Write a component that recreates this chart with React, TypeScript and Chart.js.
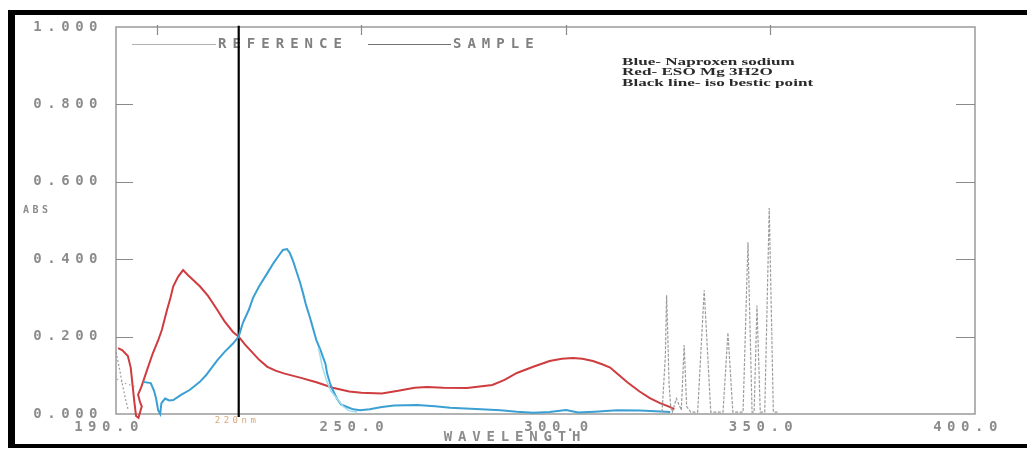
import React, { useEffect, useRef } from "react";
import { Chart, registerables } from "chart.js";

Chart.register(...registerables);

// ---------- data ----------
const redNm = [190.5, 191.5, 192.9, 193.6, 194.0, 194.5, 194.9, 195.5, 196.3, 195.9, 195.4, 196.2, 197.6, 199.0, 200.3, 201.2, 202.5, 203.3, 204.0, 205.2, 206.4, 207.5, 209.0, 210.5, 212.5, 214.7, 216.5, 218.6, 220.0, 221.5, 222.8, 225, 227, 229, 231, 235, 239, 243, 247, 250, 255, 259, 263, 266, 270, 275.8, 282, 285, 288, 292, 296, 299, 301.7, 304, 306.6, 309, 310.8, 313, 315, 318, 320.5, 323, 325.5, 326.5];
const redAbs = [0.17, 0.165, 0.15, 0.12, 0.08, 0.03, -0.005, -0.01, 0.02, 0.03, 0.05, 0.07, 0.114, 0.157, 0.19, 0.217, 0.27, 0.3, 0.33, 0.355, 0.372, 0.36, 0.345, 0.33, 0.305, 0.27, 0.24, 0.212, 0.2, 0.18, 0.165, 0.14, 0.122, 0.112, 0.105, 0.094, 0.082, 0.068, 0.058, 0.055, 0.053, 0.06, 0.068, 0.07, 0.068, 0.067, 0.075, 0.088, 0.106, 0.122, 0.137, 0.143, 0.145, 0.143, 0.137, 0.128, 0.12, 0.1, 0.082, 0.058, 0.041, 0.028, 0.018, 0.012];

const blueNm = [196.6, 198.5, 199.3, 199.8, 200.3, 200.8, 201.1, 202, 203, 204, 206, 208, 210.5, 212, 214.7, 216.5, 218.6, 220, 221, 222.5, 223.5, 225, 227, 228.5, 229.5, 230.8, 231.8, 232.5, 233.3, 234, 235, 235.7, 236.5, 237.4, 238.2, 239, 240, 240.6, 241.2, 241.6, 242.3, 243, 244, 245, 246.5, 248, 249.7, 252, 255, 258, 263.6, 268, 271.7, 278, 284, 288, 292, 296, 300, 303, 307, 312.5, 318, 322, 325.5];
const blueAbs = [0.083, 0.08, 0.06, 0.04, 0.01, 0.0, 0.028, 0.04, 0.035, 0.036, 0.05, 0.062, 0.083, 0.1, 0.138, 0.16, 0.182, 0.2, 0.235, 0.27, 0.3, 0.33, 0.364, 0.39, 0.405, 0.424, 0.426, 0.416, 0.395, 0.372, 0.34, 0.313, 0.28, 0.25, 0.22, 0.19, 0.165, 0.147, 0.13, 0.105, 0.08, 0.062, 0.04, 0.025, 0.018, 0.012, 0.01, 0.012, 0.018, 0.022, 0.023, 0.02, 0.016, 0.013, 0.01, 0.006, 0.003, 0.005, 0.01, 0.004, 0.006, 0.01, 0.009, 0.007, 0.005];

const cyanNm = [239.5, 240.5, 241.5, 242.5, 244, 245.5, 247, 249];
const cyanAbs = [0.17, 0.12, 0.085, 0.06, 0.04, 0.02, 0.008, 0.005];

const refSpikeNm = [323.5, 324.3, 324.6, 324.9, 325.2, 325.6, 326.0, 327.0, 328.2, 328.9, 329.5, 330.5, 332.2, 333.8, 335.4, 338.4, 339.6, 340.8, 343.3, 344.5, 345.5, 346.0, 346.7, 347.5, 348.6, 349.7, 350.7, 352.0];
const refSpikeAbs = [0.005, 0.15, 0.307, 0.2, 0.08, 0.02, 0.005, 0.04, 0.01, 0.178, 0.02, 0.005, 0.005, 0.32, 0.005, 0.005, 0.21, 0.005, 0.005, 0.444, 0.005, 0.005, 0.28, 0.005, 0.005, 0.532, 0.005, 0.005];

const refLeftNm = [190.0, 190.8, 191.5, 192.3, 193.0];
const refLeftAbs = [0.16, 0.12, 0.08, 0.04, 0.01];
const refLeft2Nm = [190.2, 191.2, 192.0, 193.5, 195.0];
const refLeft2Abs = [0.09, 0.085, 0.08, 0.075, 0.07];

const isoNm = 220;
const isoAbs = [-0.008, 1.003];

const xTickValues = [190, 200, 250, 300, 350, 400];
const xLabelledTicks = [190, 250, 300, 350, 400];
const yTickValues = [0, 0.2, 0.4, 0.6, 0.8, 1.0];
const legendLabels = ["REFERENCE", "SAMPLE"];
const noteLines = ["Blue- Naproxen sodium", "Red- ESO Mg 3H2O", "Black line- iso bestic point"];
const isoLabel = "220nm";
const xTitle = "WAVELENGTH";
const yTitle = "ABS";

const pts = (xs: number[], ys: number[]) => xs.map((x, i) => ({ x, y: ys[i] }));

const MONO = '"DejaVu Sans Mono", monospace';
const LABEL_GRAY = "#8c8c8c";

function spacedText(ctx: CanvasRenderingContext2D, text: string, x: number, y: number, font: string, color: string, spacing: number, align: CanvasTextAlign = "left") {
  ctx.save();
  (ctx as any).letterSpacing = spacing + "px";
  ctx.font = font;
  ctx.fillStyle = color;
  ctx.textAlign = align;
  ctx.textBaseline = "middle";
  ctx.fillText(text, x, y);
  ctx.restore();
}

function stretchedText(ctx: CanvasRenderingContext2D, text: string, x: number, y: number, font: string, color: string, sx: number) {
  ctx.save();
  ctx.translate(x, y);
  ctx.scale(sx, 1);
  ctx.font = font;
  ctx.fillStyle = color;
  ctx.textAlign = "left";
  ctx.textBaseline = "middle";
  ctx.fillText(text, 0, 0);
  ctx.restore();
}

const decor = {
  id: "decor",
  beforeDraw(chart: any) {
    const ctx = chart.ctx as CanvasRenderingContext2D;
    ctx.save();
    ctx.fillStyle = "#ffffff";
    ctx.fillRect(0, 0, chart.width, chart.height);
    ctx.restore();
    (ctx as any).letterSpacing = "5.5px";
  },
  beforeDatasetsDraw(chart: any) {
    (chart.ctx as any).letterSpacing = "0px";
    const ctx = chart.ctx as CanvasRenderingContext2D;
    const { left, right, top, bottom } = chart.chartArea;
    const xs = chart.scales.x;
    const ys = chart.scales.y;
    ctx.save();
    ctx.strokeStyle = "#9a9a9a";
    ctx.lineWidth = 1.5;
    ctx.strokeRect(left, top, right - left, bottom - top);
    ctx.lineWidth = 1.2;
    ctx.strokeStyle = "#8a8a8a";
    ctx.beginPath();
    for (const v of yTickValues.slice(1, -1)) {
      const py = Math.round(ys.getPixelForValue(v)) + 0.5;
      ctx.moveTo(left, py);
      ctx.lineTo(left + 17, py);
      ctx.moveTo(right, py);
      ctx.lineTo(right - 19, py);
    }
    for (const v of xTickValues.slice(1, -1)) {
      const px = Math.round(xs.getPixelForValue(v)) + 0.5;
      ctx.moveTo(px, top - 2);
      ctx.lineTo(px, top + 8);
    }
    ctx.stroke();

    // legend lines
    ctx.lineWidth = 1;
    ctx.strokeStyle = "#b0b0b0";
    ctx.beginPath();
    ctx.moveTo(132, 44.5);
    ctx.lineTo(216, 44.5);
    ctx.stroke();
    ctx.strokeStyle = "#707070";
    ctx.beginPath();
    ctx.moveTo(368, 44.5);
    ctx.lineTo(451, 44.5);
    ctx.stroke();
    ctx.restore();

    spacedText(ctx, legendLabels[0], 218, 44, `bold 14px ${MONO}`, "#808080", 6);
    spacedText(ctx, legendLabels[1], 453, 44, `bold 14px ${MONO}`, "#808080", 6);
  },
  afterDraw(chart: any) {
    const ctx = chart.ctx as CanvasRenderingContext2D;
    (ctx as any).letterSpacing = "0px";
    const xs = chart.scales.x;

    // annotation
    noteLines.forEach((t, i) => {
      stretchedText(ctx, t, 622, 62 + i * 10.7, `bold 10.5px "Liberation Serif", serif`, "#2a2a2a", 1.63);
    });

    // titles
    spacedText(ctx, xTitle, 515, 437, `bold 14px ${MONO}`, LABEL_GRAY, 5.8, "center");
    spacedText(ctx, yTitle, 23, 210, `bold 10px ${MONO}`, LABEL_GRAY, 3.5);
    spacedText(ctx, isoLabel, xs.getPixelForValue(isoNm) - 24, 421, `9px ${MONO}`, "#dba877", 3.5);

    // outer black frame
    ctx.save();
    ctx.fillStyle = "#000";
    ctx.fillRect(8, 10, chart.width - 8, 5);
    ctx.fillRect(8, 10, 7, 438);
    ctx.fillRect(8, 444, chart.width - 8, 4);
    ctx.restore();
  },
};

export default function App() {
  const ref = useRef<HTMLCanvasElement | null>(null);

  useEffect(() => {
    if (!ref.current) return;
    const chart = new Chart(ref.current, {
      type: "line",
      data: {
        datasets: [
          {
            label: "Reference spikes",
            data: pts(refSpikeNm, refSpikeAbs),
            borderColor: "#9c9c9c",
            borderWidth: 1.2,
            borderDash: [3, 1.5],
            clip: 8,
          },
          {
            label: "Reference left",
            data: pts(refLeftNm, refLeftAbs),
            borderColor: "#9c9c9c",
            borderWidth: 1.2,
            borderDash: [2, 2],
            clip: 8,
          },
          {
            label: "Reference left 2",
            data: pts(refLeft2Nm, refLeft2Abs),
            borderColor: "#a8a8a8",
            borderWidth: 1.2,
            borderDash: [1.5, 3],
            clip: 8,
          },
          {
            label: "Naproxen sodium (light)",
            data: pts(cyanNm, cyanAbs),
            borderColor: "#9fdcf0",
            borderWidth: 1.5,
            clip: 8,
          },
          {
            label: "Naproxen sodium",
            data: pts(blueNm, blueAbs),
            borderColor: "#3a9fd2",
            borderWidth: 2,
            clip: 8,
          },
          {
            label: "ESO Mg 3H2O",
            data: pts(redNm, redAbs),
            borderColor: "#cf3c3f",
            borderWidth: 2,
            clip: 8,
          },
          {
            label: "Isosbestic point",
            data: isoAbs.map((y) => ({ x: isoNm, y })),
            borderColor: "#000000",
            borderWidth: 2.2,
            clip: 8,
          },
        ],
      },
      options: {
        responsive: false,
        animation: false,
        events: [],
        parsing: false as any,
        layout: { padding: { left: 0, right: 52, top: 27, bottom: 0 } },
        elements: { point: { radius: 0 }, line: { tension: 0 } },
        plugins: { legend: { display: false }, tooltip: { enabled: false }, title: { display: false } },
        scales: {
          x: {
            type: "linear",
            min: 190,
            max: 400,
            afterFit: (s: any) => { s.height = 35; },
            afterBuildTicks: (s: any) => { s.ticks = xTickValues.map((v) => ({ value: v })); },
            grid: { display: false, drawTicks: false },
            border: { display: false },
            ticks: {
              autoSkip: false,
              maxRotation: 0,
              minRotation: 0,
              padding: 5,
              labelOffset: -7,
              color: LABEL_GRAY,
              font: { family: MONO, size: 14, weight: "bold" },
              callback: (v: any) => (xLabelledTicks.includes(Number(v)) ? Number(v).toFixed(1) : ""),
            },
          },
          y: {
            type: "linear",
            min: 0,
            max: 1,
            afterFit: (s: any) => { s.width = 116; },
            afterBuildTicks: (s: any) => { s.ticks = yTickValues.map((v) => ({ value: v })); },
            grid: { display: false, drawTicks: false },
            border: { display: false },
            ticks: {
              padding: 13,
              color: LABEL_GRAY,
              font: { family: MONO, size: 14, weight: "bold" },
              callback: (v: any) => Number(v).toFixed(3),
            },
          },
        },
      },
      plugins: [decor],
    } as any);
    return () => chart.destroy();
  }, []);

  return (
    <div style={{ position: "fixed", left: 0, top: 0, width: 1027, height: 449, background: "#fff" }}>
      <canvas ref={ref} width={1027} height={449} style={{ display: "block" }} />
    </div>
  );
}
